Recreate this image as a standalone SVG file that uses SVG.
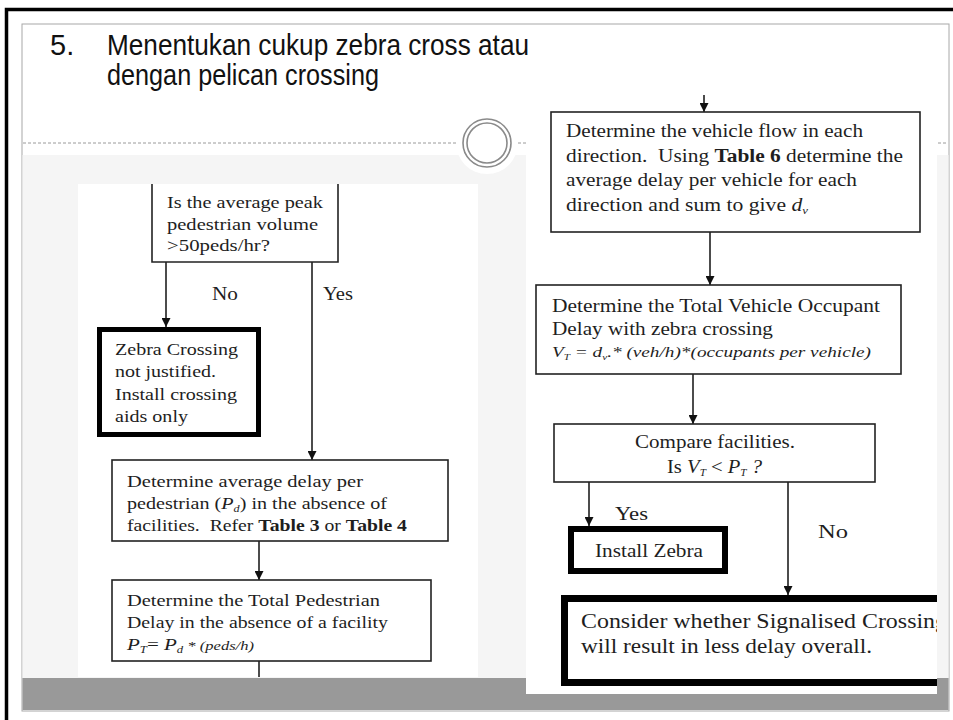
<svg xmlns="http://www.w3.org/2000/svg" width="953" height="720" viewBox="0 0 953 720">
<defs>
<style>
.t{font-family:"Liberation Serif","Times New Roman",serif;fill:#1e1e1e}
.l{font-size:16.5px}
.r{font-size:18.5px}
.b{font-weight:bold}
.i{font-style:italic}
.box{fill:#fff;stroke:#222;stroke-width:1.6}
.thick{fill:#fff;stroke:#000}
.con{stroke:#111;stroke-width:1.5;fill:none}
.title{font-family:"Liberation Sans Narrow","Liberation Sans",Arial,sans-serif;font-size:29px;fill:#111}
</style>
<marker id="ah" viewBox="0 0 10 10" refX="10" refY="5" markerWidth="9" markerHeight="9" markerUnits="userSpaceOnUse" orient="auto">
<path d="M0,0 L10,5 L0,10 z" fill="#111"/>
</marker>
<clipPath id="rc"><rect x="526" y="90" width="411" height="604"/></clipPath>
</defs>

<!-- slide background -->
<rect x="0" y="0" width="953" height="720" fill="#fff"/>
<path d="M6.5,720 V9.5 H953" fill="none" stroke="#000" stroke-width="3.5"/>
<rect x="22" y="24" width="927" height="687" fill="#fff" stroke="#a8a8a8" stroke-width="1"/>
<rect x="22.5" y="155" width="926" height="523" fill="#f5f5f5"/>
<line x1="23" y1="143" x2="948" y2="143" stroke="#9a9a9a" stroke-width="1" stroke-dasharray="3,2"/>
<circle cx="487" cy="143" r="31" fill="#fff"/>
<circle cx="487" cy="143" r="24" fill="none" stroke="#8a8a8a" stroke-width="1.6"/>
<circle cx="487" cy="143" r="20" fill="none" stroke="#8a8a8a" stroke-width="1.6"/>
<rect x="22.5" y="678" width="926" height="32" fill="#999"/>
<rect x="78" y="184" width="400" height="493" fill="#fff"/>
<rect x="526" y="90" width="411" height="604" fill="#fff"/>

<g id="title">
<text class="title" x="50" y="55">5.</text>
<text class="title" x="107" y="55" textLength="422" lengthAdjust="spacingAndGlyphs">Menentukan cukup zebra cross atau</text>
<text class="title" x="107" y="85" textLength="272" lengthAdjust="spacingAndGlyphs">dengan pelican crossing</text>
</g>

<g id="connectors">
<line class="con" x1="166" y1="262" x2="166" y2="327" marker-end="url(#ah)"/>
<line class="con" x1="312" y1="262" x2="312" y2="460" stroke="#777" marker-end="url(#ah)"/>
<line class="con" x1="259" y1="541" x2="259" y2="580" marker-end="url(#ah)"/>
<line class="con" x1="259" y1="661" x2="259" y2="677"/>
<line class="con" x1="704" y1="95" x2="704" y2="112" marker-end="url(#ah)"/>
<line class="con" x1="710" y1="232" x2="710" y2="285" marker-end="url(#ah)"/>
<line class="con" x1="693" y1="374" x2="693" y2="424" stroke="#555" marker-end="url(#ah)"/>
<line class="con" x1="589" y1="482" x2="589" y2="526" stroke="#555" marker-end="url(#ah)"/>
<line class="con" x1="788" y1="482" x2="788" y2="595" stroke="#555" marker-end="url(#ah)"/>
<text class="t" font-size="18px" x="212" y="300" textLength="26" lengthAdjust="spacingAndGlyphs">No</text>
<text class="t" font-size="18px" x="323" y="300" textLength="30" lengthAdjust="spacingAndGlyphs">Yes</text>
<text class="t" font-size="19px" x="615" y="520" textLength="33" lengthAdjust="spacingAndGlyphs">Yes</text>
<text class="t" font-size="19px" x="818" y="538" textLength="30" lengthAdjust="spacingAndGlyphs">No</text>
</g>

<g id="q-ped-volume">
<path d="M152,184 V262 H338 V184" class="box"/>
<text class="t l" x="167" y="208" textLength="156" lengthAdjust="spacingAndGlyphs">Is the average peak</text>
<text class="t l" x="167" y="230" textLength="151" lengthAdjust="spacingAndGlyphs">pedestrian volume</text>
<text class="t l" x="167" y="251" textLength="103" lengthAdjust="spacingAndGlyphs">&gt;50peds/hr?</text>
</g>

<g id="zebra-not-justified">
<rect x="99.5" y="329.5" width="159" height="105" class="thick" stroke-width="5"/>
<text class="t l" x="115" y="355" textLength="123" lengthAdjust="spacingAndGlyphs">Zebra Crossing</text>
<text class="t l" x="115" y="377" textLength="101" lengthAdjust="spacingAndGlyphs">not justified.</text>
<text class="t l" x="115" y="400" textLength="122" lengthAdjust="spacingAndGlyphs">Install crossing</text>
<text class="t l" x="115" y="422" textLength="73" lengthAdjust="spacingAndGlyphs">aids only</text>
</g>

<g id="avg-ped-delay">
<rect x="112" y="460" width="336" height="81" class="box"/>
<text class="t l" x="127" y="487" textLength="236" lengthAdjust="spacingAndGlyphs">Determine average delay per</text>
<text class="t l" x="127" y="509" textLength="260" lengthAdjust="spacingAndGlyphs">pedestrian (<tspan class="i">P</tspan><tspan class="i" font-size="10" dy="3">d</tspan><tspan dy="-3">) in the absence of</tspan></text>
<text class="t l" x="127" y="531" textLength="280" lengthAdjust="spacingAndGlyphs" xml:space="preserve">facilities.  Refer <tspan class="b">Table 3</tspan> or <tspan class="b">Table 4</tspan></text>
</g>

<g id="total-ped-delay">
<rect x="112" y="580" width="319" height="81" class="box"/>
<text class="t l" x="127" y="606" textLength="253" lengthAdjust="spacingAndGlyphs">Determine the Total Pedestrian</text>
<text class="t l" x="127" y="628" textLength="261" lengthAdjust="spacingAndGlyphs">Delay in the absence of a facility</text>
<text class="t l i" x="127" y="650" textLength="127" lengthAdjust="spacingAndGlyphs">P<tspan font-size="10" dy="3">T</tspan><tspan dy="-3" font-style="normal">= </tspan>P<tspan font-size="10" dy="3">d</tspan><tspan dy="-3" font-size="13"> * (peds/h)</tspan></text>
</g>

<g id="vehicle-flow">
<rect x="551" y="112" width="369" height="120" class="box"/>
<text class="t r" x="566" y="137" textLength="297" lengthAdjust="spacingAndGlyphs">Determine the vehicle flow in each</text>
<text class="t r" x="566" y="162" textLength="337" lengthAdjust="spacingAndGlyphs" xml:space="preserve">direction.  Using <tspan class="b">Table 6</tspan> determine the</text>
<text class="t r" x="566" y="186" textLength="291" lengthAdjust="spacingAndGlyphs">average delay per vehicle for each</text>
<text class="t r" x="566" y="211" textLength="242" lengthAdjust="spacingAndGlyphs">direction and sum to give <tspan class="i">d</tspan><tspan class="i" font-size="11" dy="3">v</tspan></text>
</g>

<g id="total-vehicle-delay">
<rect x="536" y="285" width="365" height="89" class="box"/>
<text class="t r" x="552" y="312" textLength="328" lengthAdjust="spacingAndGlyphs">Determine the Total Vehicle Occupant</text>
<text class="t r" x="552" y="335" textLength="221" lengthAdjust="spacingAndGlyphs">Delay with zebra crossing</text>
<text class="t i" font-size="15.5" x="552" y="357" textLength="319" lengthAdjust="spacingAndGlyphs" fill="#2a2a3a">V<tspan font-size="9" dy="3">T</tspan><tspan dy="-3"> = d</tspan><tspan font-size="9" dy="3">v</tspan><tspan dy="-3">.* (veh/h)*(occupants per vehicle)</tspan></text>
</g>

<g id="compare">
<rect x="554" y="424" width="321" height="58" class="box"/>
<text class="t r" x="715" y="448" text-anchor="middle" textLength="160" lengthAdjust="spacingAndGlyphs">Compare facilities.</text>
<text class="t r" x="667" y="473" textLength="95" lengthAdjust="spacingAndGlyphs">Is <tspan class="i">V</tspan><tspan class="i" font-size="10" dy="3">T</tspan><tspan dy="-3"> &lt; </tspan><tspan class="i">P</tspan><tspan class="i" font-size="10" dy="3">T</tspan><tspan class="i" dy="-3"> ?</tspan></text>
</g>

<g id="install-zebra">
<rect x="571" y="529" width="154" height="42" class="thick" stroke-width="6"/>
<text class="t r" x="595" y="557" textLength="108" lengthAdjust="spacingAndGlyphs">Install Zebra</text>
</g>

<g id="consider-signalised" clip-path="url(#rc)">
<rect x="564.5" y="598.5" width="420" height="84" class="thick" stroke-width="7"/>
<text class="t" font-size="21px" x="581" y="628" textLength="366" lengthAdjust="spacingAndGlyphs">Consider whether Signalised Crossing</text>
<text class="t" font-size="21px" x="581" y="653" textLength="291" lengthAdjust="spacingAndGlyphs">will result in less delay overall.</text>
</g>
</svg>
